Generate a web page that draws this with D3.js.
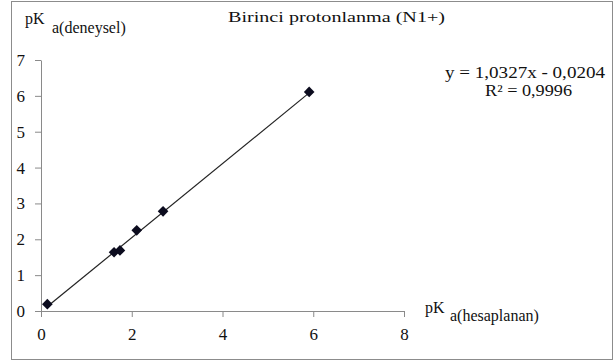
<!DOCTYPE html>
<html>
<head>
<meta charset="utf-8">
<script src="https://cdn.jsdelivr.net/npm/d3@7/dist/d3.min.js"></script>
<style>
  html, body { margin: 0; padding: 0; background: #fff; }
</style>
</head>
<body>
<svg id="chart" width="614" height="364"></svg>
<script>
// Data
const xValues = [0.14, 1.61, 1.74, 2.11, 2.69, 5.91];   // pKa (hesaplanan)
const yValues = [0.19, 1.64, 1.69, 2.25, 2.78, 6.11];   // pKa (deneysel)
const slope = 1.0327;
const intercept = -0.0204;
const xTicks = [0, 2, 4, 6, 8];
const yTicks = [0, 1, 2, 3, 4, 5, 6, 7];
const titleText = "Birinci protonlanma (N1+)";
const equationText = "y = 1,0327x - 0,0204";
const r2Text = "R² = 0,9996";

const FONT = "'Liberation Serif', 'Times New Roman', Times, Tinos, 'DejaVu Serif', serif";

const svg = d3.select("#chart");

// outer border
svg.append("rect")
  .attr("x", 11.5).attr("y", 1.5)
  .attr("width", 601).attr("height", 358)
  .attr("fill", "#fff").attr("stroke", "#8c8c8c").attr("stroke-width", 1);

const x = d3.scaleLinear().domain([0, 8]).range([41, 404]);
const y = d3.scaleLinear().domain([0, 7]).range([311, 60]);

const axisColor = "#8a8a8a";

const xAxis = svg.append("g")
  .attr("transform", `translate(0,${y(0)})`)
  .call(d3.axisBottom(x).tickValues(xTicks).tickSize(6).tickSizeOuter(0).tickPadding(11).tickFormat(d3.format("d")));
const yAxis = svg.append("g")
  .attr("transform", `translate(${x(0)},0)`)
  .call(d3.axisLeft(y).tickValues(yTicks).tickSize(6).tickSizeOuter(0).tickPadding(10).tickFormat(d3.format("d")));

[xAxis, yAxis].forEach(g => {
  g.attr("font-family", FONT).attr("font-size", 17);
  g.selectAll("path, line").attr("stroke", axisColor);
  g.selectAll("text").style("font-family", FONT).attr("font-size", 17).attr("fill", "#111");
});

// trendline over the data range
const xMin = d3.min(xValues), xMax = d3.max(xValues);
svg.append("line")
  .attr("x1", x(xMin)).attr("y1", y(slope * xMin + intercept))
  .attr("x2", x(xMax)).attr("y2", y(slope * xMax + intercept))
  .attr("stroke", "#222").attr("stroke-width", 1.2);

// diamond markers
const diamond = d3.symbol().type(d3.symbolDiamond2).size(72);
svg.append("g").selectAll("path")
  .data(xValues.map((v, i) => [v, yValues[i]]))
  .join("path")
  .attr("d", diamond)
  .attr("transform", d => `translate(${x(d[0])},${y(d[1])})`)
  .attr("fill", "#0b0b1e");

function txt(xp, yp, size) {
  return svg.append("text").attr("x", xp).attr("y", yp)
    .style("font-family", FONT).attr("font-size", size).attr("fill", "#111");
}

// title
txt(228, 22, 15.5)
  .attr("textLength", 217).attr("lengthAdjust", "spacingAndGlyphs")
  .text(titleText);

// y axis label
const yl = txt(25, 24, 16);
yl.append("tspan").text("pK");
yl.append("tspan").attr("x", 52).attr("y", 33).text("a(deneysel)");

// x axis label
const xl = txt(425, 313, 16);
xl.append("tspan").text("pK");
xl.append("tspan").attr("x", 450).attr("y", 321).text("a(hesaplanan)");

// equation
txt(445, 78, 16.5)
  .attr("textLength", 160).attr("lengthAdjust", "spacingAndGlyphs")
  .text(equationText);
txt(485, 96, 16.5)
  .attr("textLength", 87).attr("lengthAdjust", "spacingAndGlyphs")
  .text(r2Text);
</script>
</body>
</html>
